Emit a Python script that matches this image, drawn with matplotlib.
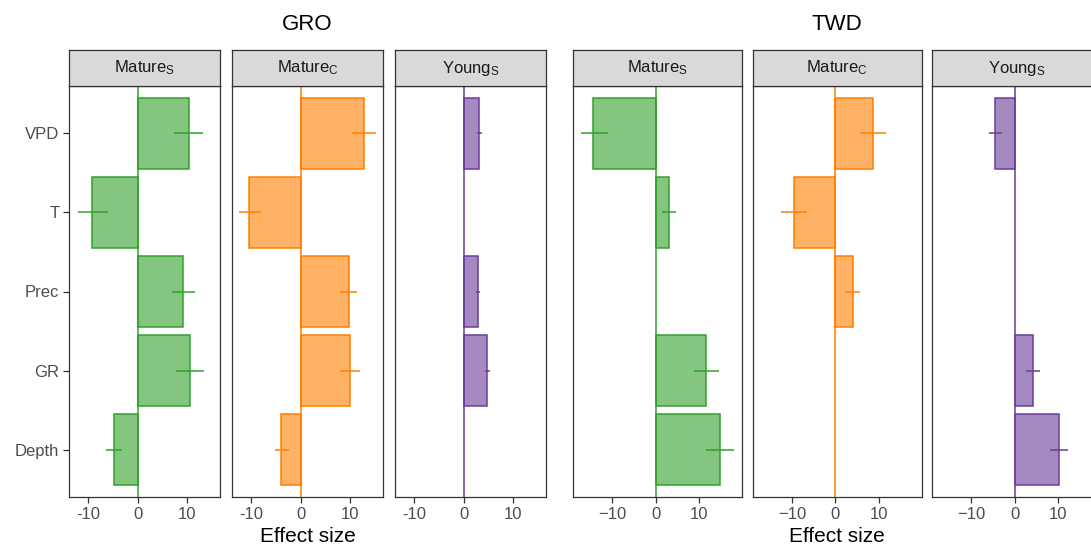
import numpy as np
import matplotlib
matplotlib.use("Agg")
import matplotlib.pyplot as plt

plt.rcParams["font.family"] = ["Liberation Sans", "DejaVu Sans"]
plt.rcParams["mathtext.fontset"] = "custom"
plt.rcParams["mathtext.rm"] = "Liberation Sans"
plt.rcParams["mathtext.default"] = "regular"

variables = ["VPD", "T", "Prec", "GR", "Depth"]
facets = ["Mature$_S$", "Mature$_C$", "Young$_S$"]
groups = ["GRO", "TWD"]

# effect sizes and interval bounds, rows follow `variables`
gro_mature_s = [10.3, -9.2, 9.2, 10.5, -4.7]
gro_mature_s_lo = [7.4, -11.9, 6.9, 7.7, -6.3]
gro_mature_s_hi = [13.2, -6.0, 11.6, 13.3, -3.1]

gro_mature_c = [12.8, -10.3, 9.7, 10.0, -3.9]
gro_mature_c_lo = [10.4, -12.4, 7.9, 8.0, -5.2]
gro_mature_c_hi = [15.2, -8.0, 11.4, 11.9, -2.3]

gro_young_s = [3.2, np.nan, 3.0, 4.75, np.nan]
gro_young_s_lo = [2.8, np.nan, 2.6, 4.3, np.nan]
gro_young_s_hi = [3.7, np.nan, 3.4, 5.3, np.nan]

twd_mature_s = [-14.4, 3.15, np.nan, 11.5, 14.9]
twd_mature_s_lo = [-17.3, 1.5, np.nan, 8.7, 11.6]
twd_mature_s_hi = [-11.0, 4.6, np.nan, 14.5, 18.1]

twd_mature_c = [8.6, -9.5, 4.0, np.nan, np.nan]
twd_mature_c_lo = [5.65, -12.4, 2.2, np.nan, np.nan]
twd_mature_c_hi = [11.6, -6.5, 5.8, np.nan, np.nan]

twd_young_s = [-4.6, np.nan, np.nan, 4.2, 10.1]
twd_young_s_lo = [-5.9, np.nan, np.nan, 2.7, 8.2]
twd_young_s_hi = [-3.0, np.nan, np.nan, 5.8, 12.3]

panels = {
    "GRO": [(gro_mature_s, gro_mature_s_lo, gro_mature_s_hi),
            (gro_mature_c, gro_mature_c_lo, gro_mature_c_hi),
            (gro_young_s, gro_young_s_lo, gro_young_s_hi)],
    "TWD": [(twd_mature_s, twd_mature_s_lo, twd_mature_s_hi),
            (twd_mature_c, twd_mature_c_lo, twd_mature_c_hi),
            (twd_young_s, twd_young_s_lo, twd_young_s_hi)],
}

line_cols = ["#33a02c", "#ff7f00", "#6a3d9a"]
W, H = 1091, 548
fig = plt.figure(figsize=(W / 100, H / 100), dpi=100)

# panel geometry in pixels (left edges, width) per group
layout = {"GRO": ([69, 232, 395], 151), "TWD": ([573, 752.5, 932], 169)}
plot_top, plot_bot, strip_top = 86, 497, 50
ypos = np.arange(len(variables))[::-1] + 1
frame = "#333333"
tick_col = "#4d4d4d"

for g in groups:
    lefts, pw = layout[g]
    allv = np.concatenate([np.array(v, float) for p in panels[g] for v in p])
    lo, hi = np.nanmin(allv), np.nanmax(allv)
    pad = 0.05 * (hi - lo)
    xlim = (lo - pad, hi + pad)
    for i, (vals, elo, ehi) in enumerate(panels[g]):
        x0 = lefts[i]
        ax = fig.add_axes([x0 / W, 1 - plot_bot / H, pw / W, (plot_bot - plot_top) / H])
        c = line_cols[i]
        ax.axvline(0, color=c, lw=1.1, zorder=1)
        v = np.array(vals, float)
        ok = ~np.isnan(v)
        ax.barh(ypos[ok], v[ok], height=0.9, color=c, alpha=0.6, lw=0, zorder=2)
        ax.barh(ypos[ok], v[ok], height=0.9, fill=False, edgecolor=c, lw=1.1, zorder=3)
        ax.hlines(ypos[ok], np.array(elo)[ok], np.array(ehi)[ok], color=c, lw=1.1, zorder=4)
        ax.set_xlim(*xlim)
        ax.set_ylim(0.4, len(variables) + 0.6)
        ax.set_xticks([-10, 0, 10])
        if g == "GRO":
            ax.set_xticklabels(["-10", "0", "10"])
        else:
            ax.set_xticklabels(["\u221210", "0", "10"])
        if g == "GRO" and i == 0:
            ax.set_yticks(ypos)
            ax.set_yticklabels(variables)
        else:
            ax.set_yticks([])
        ax.tick_params(colors=frame, labelcolor=tick_col, labelsize=12, length=4, width=0.9, pad=3)
        for s in ax.spines.values():
            s.set_color(frame)
            s.set_linewidth(0.9)

        sax = fig.add_axes([x0 / W, 1 - plot_top / H, pw / W, (plot_top - strip_top) / H])
        sax.set_facecolor("#d9d9d9")
        sax.set_xticks([])
        sax.set_yticks([])
        for s in sax.spines.values():
            s.set_color(frame)
            s.set_linewidth(0.9)
        sax.text(0.5, 0.5, facets[i], ha="center", va="center", fontsize=12,
                 color="#1a1a1a", transform=sax.transAxes)

    cx = (lefts[0] + lefts[-1] + pw) / 2
    fig.text(cx / W, 1 - 25 / H, g, ha="center", va="center", fontsize=16)
    fig.text(cx / W, 1 - 537 / H, "Effect size", ha="center", va="center", fontsize=15)

fig.savefig("out.png", dpi=100)
